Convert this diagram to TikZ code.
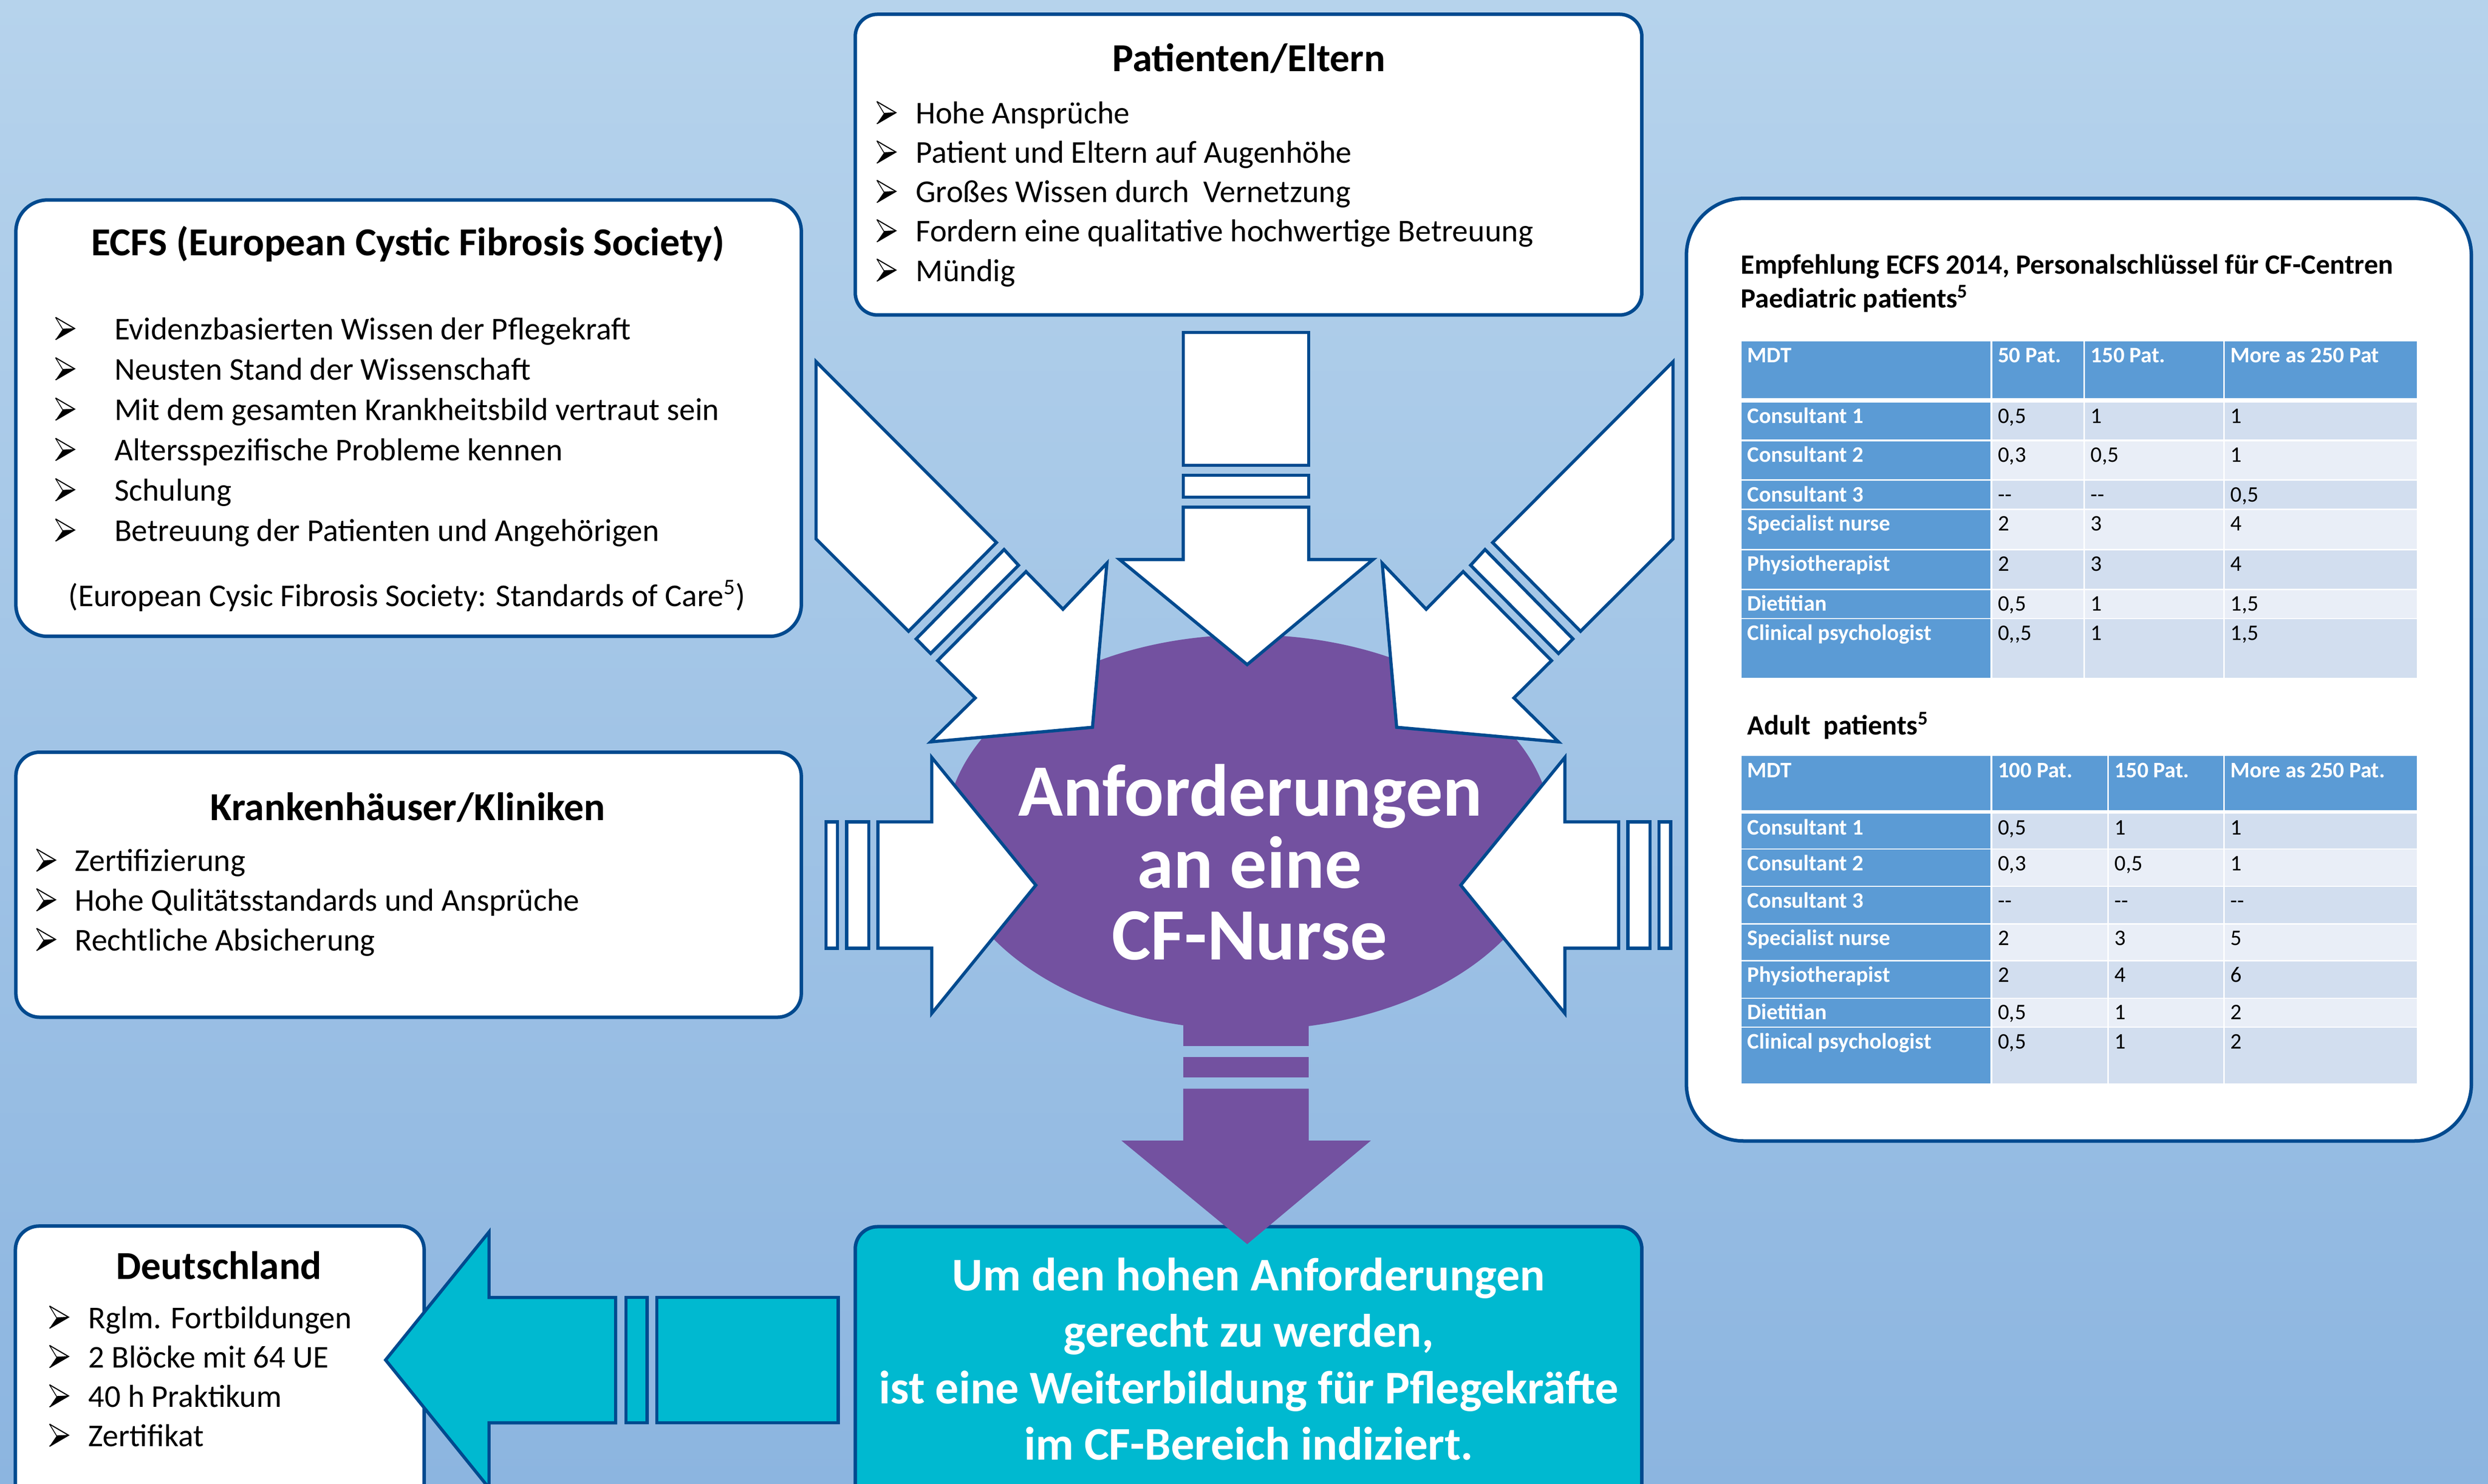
\documentclass[tikz,border=0pt]{standalone}
\usepackage{fontspec}
\setmainfont{Carlito}
\definecolor{bgtop}{RGB}{182,211,236}
\definecolor{bgbot}{RGB}{140,181,224}
\definecolor{dblue}{RGB}{0,74,143}
\definecolor{purp}{RGB}{115,81,160}
\definecolor{tealc}{RGB}{0,185,208}
\definecolor{tblue}{RGB}{91,155,213}
\definecolor{tdark}{RGB}{210,222,239}
\definecolor{tlight}{RGB}{233,238,247}
\tikzset{
 panel/.style={draw=dblue, line width=2.2pt, fill=white},
 warrow/.style={draw=dblue, line width=2pt, fill=white, line join=miter, miter limit=20},
 tarrow/.style={draw=dblue, line width=2pt, fill=tealc, line join=miter},
 txt/.style={anchor=base west, inner sep=0pt, font=\fontsize{20}{24}\selectfont},
 ttl/.style={anchor=base, inner sep=0pt, font=\fontsize{25}{30}\selectfont\bfseries},
 thd/.style={anchor=base west, inner sep=0pt, text=white, font=\fontsize{14}{16}\selectfont\bfseries},
 tval/.style={anchor=base west, inner sep=0pt, font=\fontsize{14}{16}\selectfont},
 bigtxt/.style={anchor=base, inner sep=0pt, text=white, font=\fontsize{46.5}{50}\selectfont\bfseries},
 tealtxt/.style={anchor=base, inner sep=0pt, text=white, font=\fontsize{29.5}{33}\selectfont\bfseries},
 subttl/.style={anchor=base west, inner sep=0pt, font=\fontsize{17.6}{20}\selectfont\bfseries},
 bullet/.pic={
  \fill[black] (4.5,-6.6) -- (12,-7) -- (0,0) -- cycle;
  \draw[black, line width=0.7pt, line join=miter] (0,-14) -- (12,-7) -- (0,0);
  \draw[black, line width=0.5pt] (0,-14) -- (4.5,-6.6) -- (12,-7);
 },
}
\newcommand\tabhead[5]{%
 \fill[tblue] (\tcA,#1) rectangle (\tcB,#2);
 \fill[tblue] (\tcC,#1) rectangle (\tcD,#2);
 \fill[tblue] (\tcE,#1) rectangle (\tcF,#2);
 \fill[tblue] (\tcG,#1) rectangle (\tcH,#2);
 \node[thd] (\tid-h-a) at (\tcA+3.3,#1+13.6) {MDT};
 \node[thd] (\tid-h-b) at (\tcC+3.5,#1+13.6) {#3};
 \node[thd] (\tid-h-c) at (\tcE+3.5,#1+13.6) {#4};
 \node[thd] (\tid-h-d) at (\tcG+3.5,#1+13.6) {#5};
}
\newcommand\tabrow[8]{%
 \fill[tblue] (\tcA,#1) rectangle (\tcB,#2);
 \fill[#3] (\tcC,#1) rectangle (\tcD,#2);
 \fill[#3] (\tcE,#1) rectangle (\tcF,#2);
 \fill[#3] (\tcG,#1) rectangle (\tcH,#2);
 \node[thd] (\tid-#8-a) at (\tcA+3.3,#1+13.2) {#4};
 \node[tval] (\tid-#8-b) at (\tcC+3.5,#1+13.2) {#5};
 \node[tval] (\tid-#8-c) at (\tcE+3.5,#1+13.2) {#6};
 \node[tval] (\tid-#8-d) at (\tcG+3.5,#1+13.2) {#7};
}
\begin{document}
\begin{tikzpicture}[x=1pt,y=-1pt]
\fill[top color=bgtop,bottom color=bgbot] (0,0) rectangle (1568,935);
\useasboundingbox (0,0) rectangle (1568,935);

% panels
\draw[panel, rounded corners=20pt] (10,126) rectangle (505,401);
\draw[panel, rounded corners=14pt] (539,9) rectangle (1034.7,198.5);
\draw[panel, rounded corners=36pt] (1062.8,125) rectangle (1557.5,719);
\draw[panel, rounded corners=15pt] (10,474) rectangle (505,641);
\draw[panel, rounded corners=15pt] (9.7,772.6) rectangle (267.3,960);
\draw[draw=dblue, line width=2.2pt, fill=tealc, rounded corners=14pt] (539,773) rectangle (1034.7,960);

% central ellipse and purple arrow
\fill[purp] (787,524.5) ellipse [x radius=191pt, y radius=124.5pt];
\fill[purp] (745.7,630) rectangle (824.8,659.3);
\fill[purp] (745.7,666) rectangle (824.8,679);
\fill[purp] (745.7,686) -- (824.8,686) -- (824.8,718.7) -- (864,718.7) -- (786,784) -- (706.7,718.7) -- (745.7,718.7) -- cycle;

% top arrow
\draw[warrow] (745.7,209.4) rectangle (824.8,293.2);
\draw[warrow] (745.7,299.5) rectangle (824.8,313.3);
\draw[warrow] (745.7,319.6) -- (824.8,319.6) -- (824.8,352.6) -- (865.3,352.6) -- (786,418.8) -- (705.6,352.6) -- (745.7,352.6) -- cycle;

% diagonal arrows
\foreach \sx/\sc in {0/1, 1568.7/-1}{
\begin{scope}[xshift=\sx pt, xscale=\sc]
\draw[warrow] (514.3,227.9) -- (628,341.9) -- (572.6,397.8) -- (514.3,339.6) -- cycle;
\draw[warrow] (632.8,346.3) -- (641.9,356.2) -- (586.5,411.8) -- (577.4,402.6) -- cycle;
\draw[warrow] (646.6,360.2) -- (669.9,383.9) -- (697.6,354.9) -- (688.5,458.3) -- (586.5,467.5) -- (614.6,439.8) -- (590.9,416.3) -- cycle;
\end{scope}
}

% horizontal arrows
\foreach \sx/\sc in {0/1, 1573.4/-1}{
\begin{scope}[xshift=\sx pt, xscale=\sc]
\draw[warrow] (520.5,517.9) rectangle (527.8,597.5);
\draw[warrow] (533.6,517.9) rectangle (547.5,597.5);
\draw[warrow] (553.3,517.9) -- (587.2,517.9) -- (587.2,477.3) -- (652.8,557.8) -- (587.2,638.6) -- (587.2,597.5) -- (553.3,597.5) -- cycle;
\end{scope}
}

% teal arrow
\draw[tarrow] (414,817.6) rectangle (528.2,896.6);
\draw[tarrow] (394.6,817.6) rectangle (407.8,896.6);
\draw[tarrow] (388,817.6) -- (308.2,817.6) -- (308.2,776.3) -- (243,857) -- (308.2,937.7) -- (308.2,896.6) -- (388,896.6) -- cycle;

% central text
\node[bigtxt] (c1) at (788,514) {Anforderungen};
\node[bigtxt] (c2) at (787.5,559.6) {an eine};
\node[bigtxt] (c3) at (787.5,604.7) {CF-Nurse};

% teal text
\node[tealtxt] (u1) at (787,813.4) {Um den hohen Anforderungen};
\node[tealtxt] (u2) at (787,848.9) {gerecht zu werden,};
\node[tealtxt] (u3) at (787,884.4) {ist eine Weiterbildung für Pflegekräfte};
\node[tealtxt] (u4) at (787,919.9) {im CF-Bereich indiziert.};

% ECFS
\node[ttl] (ecfs) at (257,161) {ECFS (European Cystic Fibrosis Society)};
\foreach \t [count=\i] in {Evidenzbasierten Wissen der Pflegekraft, Neusten Stand der Wissenschaft, Mit dem gesamten Krankheitsbild vertraut sein, Altersspezifische Probleme kennen, Schulung, Betreuung der Patienten und Angehörigen}{
 \pic (eb\i) at (35,{214+25.4*(\i-1)}) {bullet};
 \node[txt] (et\i) at (72,{214+25.4*(\i-1)}) {\t};
}
\node[txt] (esrc) at (43,382) {(European Cysic Fibrosis Society: Standards of Care\textsuperscript{5})};

% Patienten
\node[ttl] (pat) at (787,45) {Patienten/Eltern};
\foreach \t [count=\i] in {Hohe Ansprüche, Patient und Eltern auf Augenhöhe, Großes Wissen durch\ \ Vernetzung, Fordern eine qualitative hochwertige Betreuung, Mündig}{
 \pic (pb\i) at (552.6,{78+24.8*(\i-1)}) {bullet};
 \node[txt] (pt\i) at (577,{78+24.8*(\i-1)}) {\t};
}

% Krankenhaeuser
\node[ttl] (kh) at (257,517) {Krankenhäuser/Kliniken};
\foreach \t [count=\i] in {Zertifizierung, Hohe Qulitätsstandards und Ansprüche, Rechtliche Absicherung}{
 \pic (kb\i) at (23,{549+25*(\i-1)}) {bullet};
 \node[txt] (kt\i) at (47,{549+25*(\i-1)}) {\t};
}

% Deutschland
\node[ttl] (de) at (138,806) {Deutschland};
\foreach \t [count=\i] in {Rglm. Fortbildungen, 2 Blöcke mit 64 UE, 40 h Praktikum, Zertifikat}{
 \pic (db\i) at (31.2,{837+24.8*(\i-1)}) {bullet};
 \node[txt] (dt\i) at (55.6,{837+24.8*(\i-1)}) {\t};
}

% right panel titles
\node[subttl] (rt1) at (1097,172.5) {Empfehlung ECFS 2014, Personalschlüssel für CF-Centren};
\node[subttl] (rt2) at (1097,194) {Paediatric patients\textsuperscript{5}};
\node[subttl] (rt3) at (1101,463) {Adult\ \ patients\textsuperscript{5}};

% table 1
\def\tid{pa}
\def\tcA{1097.7}\def\tcB{1254.5}\def\tcC{1255.5}\def\tcD{1313}\def\tcE{1314}\def\tcF{1401}\def\tcG{1402}\def\tcH{1523}
\tabhead{215}{251}{50 Pat.}{150 Pat.}{More as 250 Pat}
\tabrow{253.6}{277}{tdark}{Consultant 1}{0,5}{1}{1}{r1}
\tabrow{278}{302}{tlight}{Consultant 2}{0,3}{0,5}{1}{r2}
\tabrow{303}{320.5}{tdark}{Consultant 3}{-{}-}{-{}-}{0,5}{r3}
\tabrow{321.3}{345.8}{tlight}{Specialist nurse}{2}{3}{4}{r4}
\tabrow{346.7}{371}{tdark}{Physiotherapist}{2}{3}{4}{r5}
\tabrow{371.8}{389.4}{tlight}{Dietitian}{0,5}{1}{1,5}{r6}
\tabrow{390.2}{427}{tdark}{Clinical psychologist}{0,{},5}{1}{1,5}{r7}

% table 2
\def\tid{ad}
\def\tcD{1328}\def\tcE{1329}
\tabhead{476.4}{510.4}{100 Pat.}{150 Pat.}{More as 250 Pat.}
\tabrow{512.7}{534.6}{tdark}{Consultant 1}{0,5}{1}{1}{r1}
\tabrow{535.4}{558.2}{tlight}{Consultant 2}{0,3}{0,5}{1}{r2}
\tabrow{558.9}{581.8}{tdark}{Consultant 3}{-{}-}{-{}-}{-{}-}{r3}
\tabrow{582.6}{604.9}{tlight}{Specialist nurse}{2}{3}{5}{r4}
\tabrow{605.8}{628.6}{tdark}{Physiotherapist}{2}{4}{6}{r5}
\tabrow{629.3}{646.8}{tlight}{Dietitian}{0,5}{1}{2}{r6}
\tabrow{647.6}{682.6}{tdark}{Clinical psychologist}{0,5}{1}{2}{r7}
\end{tikzpicture}
\end{document}
